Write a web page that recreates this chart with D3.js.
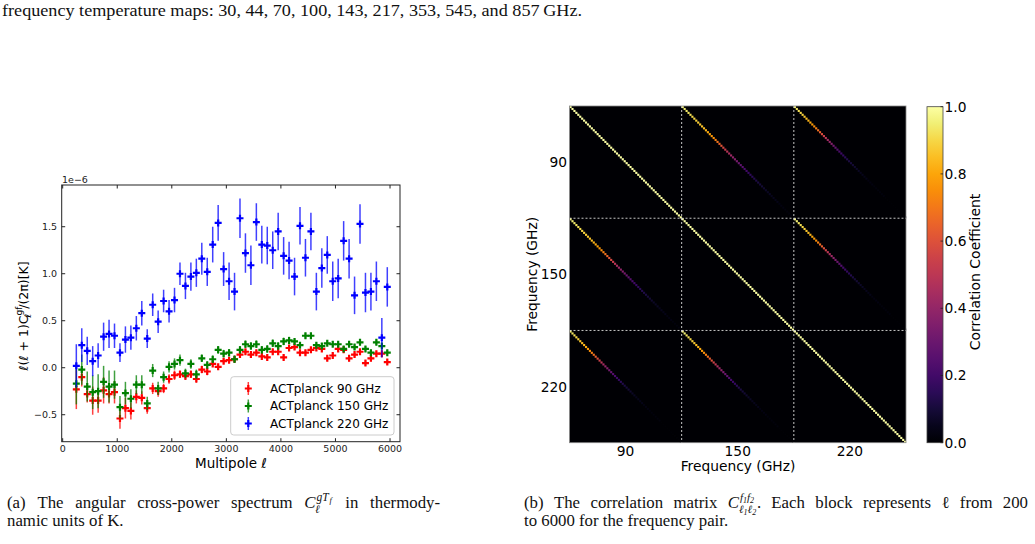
<!DOCTYPE html>
<html><head><meta charset="utf-8">
<script src="https://cdn.jsdelivr.net/npm/d3@7"></script>
<style>html,body{margin:0;padding:0;background:#fff;}svg{display:block;}</style>
</head><body>
<script>
// ---------------- DATA ----------------
const ells = d3.range(250, 6000, 100); // 58 multipole bins
const series = ["ACTplanck 90 GHz", "ACTplanck 150 GHz", "ACTplanck 220 GHz"];
const seriesColors = ["#ff0000", "#008000", "#0000ff"];

const val90 = [-0.23,-0.10,-0.28,-0.35,-0.35,-0.24,-0.28,-0.26,-0.54,-0.43,
  -0.46,-0.31,-0.32,-0.43,-0.22,-0.25,-0.22,-0.12,-0.08,-0.07,
  -0.09,-0.07,-0.12,-0.02,-0.04,0.04,0.01,0.07,0.08,0.09,
  0.14,0.17,0.14,0.16,0.12,0.11,0.17,0.17,0.11,0.21,
  0.22,0.16,0.16,0.19,0.21,0.20,0.10,0.13,0.20,0.19,
  0.10,0.14,0.17,0.05,0.10,0.15,0.15,0.06];
const err90 = [0.21,0.10,0.09,0.15,0.13,0.14,0.10,0.12,0.11,0.11,
  0.09,0.07,0.07,0.06,0.06,0.06,0.05,0.05,0.05,0.04,
  0.04,0.04,0.04,0.04,0.04,0.03,0.03,0.03,0.03,0.03,
  0.03,0.03,0.03,0.03,0.03,0.03,0.03,0.03,0.03,0.03,
  0.03,0.03,0.03,0.03,0.03,0.03,0.03,0.03,0.03,0.03,
  0.03,0.03,0.03,0.03,0.03,0.03,0.03,0.03];
const val150 = [-0.17,-0.02,-0.20,-0.26,-0.25,-0.15,-0.20,-0.18,-0.42,-0.27,
  -0.33,-0.18,-0.18,-0.38,-0.03,-0.22,-0.10,0.01,0.04,0.08,
  -0.06,0.04,-0.07,0.10,0.03,0.09,0.19,0.15,0.16,0.09,
  0.19,0.25,0.23,0.25,0.19,0.20,0.26,0.23,0.28,0.29,
  0.28,0.24,0.34,0.34,0.24,0.23,0.26,0.25,0.25,0.20,
  0.25,0.22,0.27,0.20,0.16,0.27,0.23,0.16];
const err150 = [0.22,0.16,0.16,0.18,0.18,0.17,0.17,0.15,0.12,0.12,
  0.10,0.10,0.10,0.07,0.07,0.07,0.06,0.06,0.06,0.06,
  0.05,0.05,0.05,0.04,0.04,0.04,0.04,0.04,0.04,0.04,
  0.04,0.04,0.04,0.04,0.04,0.04,0.04,0.04,0.04,0.04,
  0.03,0.03,0.03,0.03,0.03,0.03,0.03,0.03,0.03,0.03,
  0.03,0.03,0.03,0.03,0.03,0.03,0.03,0.03];
const val220 = [0.02,0.24,0.18,0.07,0.13,0.33,0.36,0.34,0.16,0.30,
  0.32,0.42,0.58,0.31,0.67,0.49,0.71,0.60,0.72,1.00,
  0.87,0.97,1.01,1.16,1.02,1.31,1.54,1.05,0.92,0.81,
  1.59,1.22,1.09,1.55,1.31,1.30,1.25,1.45,1.19,1.14,
  0.97,1.51,1.17,1.45,0.81,1.06,1.20,0.92,0.95,1.35,
  1.16,0.77,1.53,0.80,0.81,0.92,0.32,0.86];
const err220 = [0.23,0.18,0.15,0.16,0.13,0.15,0.15,0.13,0.10,0.14,
  0.13,0.13,0.13,0.10,0.12,0.12,0.12,0.12,0.13,0.12,
  0.14,0.15,0.15,0.17,0.15,0.19,0.19,0.18,0.20,0.20,
  0.21,0.21,0.21,0.20,0.20,0.20,0.20,0.20,0.20,0.20,
  0.20,0.20,0.20,0.20,0.20,0.21,0.20,0.21,0.21,0.21,
  0.21,0.20,0.21,0.21,0.20,0.21,0.21,0.21];

const xTicks = [0,1000,2000,3000,4000,5000,6000];
const yTicks = [-0.5,0.0,0.5,1.0,1.5];

// correlation matrix: frequencies and off-diagonal block correlations along ell
const freqs = ["90","150","220"];
const corr90_150 = [0.96,0.95,0.94,0.93,0.92,0.91,0.90,0.89,0.88,0.87,
  0.86,0.85,0.83,0.81,0.79,0.77,0.75,0.72,0.69,0.65,
  0.61,0.57,0.53,0.49,0.45,0.42,0.39,0.36,0.33,0.30,
  0.27,0.25,0.22,0.20,0.18,0.16,0.15,0.13,0.12,0.11,
  0.10,0.09,0.08,0.07,0.06,0.06,0.05,0.05,0.04,0.04,
  0.03,0.03,0.03,0.02,0.02,0.02,0.02,0.01];
const corr90_220 = [0.95,0.93,0.92,0.90,0.89,0.87,0.85,0.83,0.81,0.78,
  0.75,0.72,0.68,0.64,0.59,0.54,0.49,0.44,0.40,0.36,
  0.32,0.28,0.25,0.22,0.19,0.17,0.15,0.13,0.11,0.10,
  0.09,0.08,0.07,0.06,0.05,0.05,0.04,0.04,0.03,0.03,
  0.03,0.02,0.02,0.02,0.02,0.02,0.02,0.01,0.01,0.01,
  0.01,0.01,0.01,0.01,0.01,0.01,0.01,0.01];
const corr150_220 = [0.96,0.95,0.93,0.92,0.90,0.89,0.87,0.85,0.83,0.81,
  0.78,0.75,0.72,0.68,0.64,0.60,0.55,0.50,0.46,0.42,
  0.38,0.34,0.30,0.27,0.24,0.21,0.19,0.17,0.15,0.13,
  0.11,0.10,0.09,0.08,0.07,0.06,0.05,0.05,0.04,0.04,
  0.03,0.03,0.03,0.03,0.02,0.02,0.02,0.02,0.02,0.02,
  0.01,0.01,0.01,0.01,0.01,0.01,0.01,0.01];
const cbTicks = [0.0,0.2,0.4,0.6,0.8,1.0];

// ---------------- DRAW ----------------
const W = 1035, H = 544;
const svg = d3.select("body").append("svg").attr("width", W).attr("height", H)
  .style("background", "#fff");
const SANS = "DejaVu Sans, sans-serif";
const SERIF = "Liberation Serif, DejaVu Serif, serif";

// page text
svg.append("text").attr("x", 2).attr("y", 15.5).attr("font-family", SERIF).attr("font-size", 17)
  .attr("fill", "#111").attr("textLength", 580).attr("lengthAdjust", "spacingAndGlyphs")
  .text("frequency temperature maps: 30, 44, 70, 100, 143, 217, 353, 545, and 857\u2009GHz.");

// justified caption line: items are strings or {w, draw(g,x,y)}
const CAPFS = 16.8;
function justify(items, x0, x1, y) {
  const g = svg.append("g").attr("font-family", SERIF).attr("font-size", CAPFS).attr("fill", "#111");
  const nodes = items.map(it => {
    if (typeof it === "string") {
      const t = g.append("text").attr("y", y).text(it);
      return {w: t.node().getComputedTextLength(), place: x => t.attr("x", x)};
    }
    const sub = g.append("g");
    const w = it.draw(sub, 0, y);
    return {w, place: x => sub.attr("transform", `translate(${x},0)`)};
  });
  const tot = d3.sum(nodes, n => n.w);
  const gap = (x1 - x0 - tot) / (nodes.length - 1);
  let x = x0;
  nodes.forEach(n => { n.place(x); x += n.w + gap; });
}
function plain(txt, x, y) {
  svg.append("text").attr("x", x).attr("y", y).attr("font-family", SERIF).attr("font-size", CAPFS)
    .attr("fill", "#111").text(txt);
}
const mathA = {draw: (g, x, y) => {
  const c = g.append("text").attr("x", x).attr("y", y).attr("font-style", "italic").text("C");
  const cw = c.node().getComputedTextLength();
  g.append("text").attr("x", x + cw + 1).attr("y", y - 7).attr("font-size", 11.5).attr("font-style", "italic").text("gT");
  g.append("text").attr("x", x + cw + 14).attr("y", y - 5).attr("font-size", 8.5).attr("font-style", "italic").text("f");
  g.append("text").attr("x", x + cw - 0.5).attr("y", y + 5).attr("font-size", 11.5).attr("font-style", "italic").text("\u2113");
  return cw + 18;
}};
const mathB = {draw: (g, x, y) => {
  const c = g.append("text").attr("x", x).attr("y", y).attr("font-style", "italic").text("C");
  const cw = c.node().getComputedTextLength();
  const sup = g.append("text").attr("x", x + cw + 1).attr("y", y - 7).attr("font-size", 11).attr("font-style", "italic");
  sup.append("tspan").text("f");
  sup.append("tspan").attr("font-size", 8).attr("dy", 2).text("1");
  sup.append("tspan").attr("dy", -2).text("f");
  sup.append("tspan").attr("font-size", 8).attr("dy", 2).text("2");
  const sub = g.append("text").attr("x", x + cw).attr("y", y + 5).attr("font-size", 11).attr("font-style", "italic");
  sub.append("tspan").text("\u2113");
  sub.append("tspan").attr("font-size", 8).attr("dy", 2).text("1");
  sub.append("tspan").attr("dy", -2).text("\u2113");
  sub.append("tspan").attr("font-size", 8).attr("dy", 2).text("2");
  g.append("text").attr("x", x + cw + 18).attr("y", y).text(".");
  return cw + 22;
}};
justify(["(a)", "The", "angular", "cross-power", "spectrum", mathA, "in", "thermody-"], 7, 440, 508);
plain("namic units of K.", 7, 526);
justify(["(b)", "The", "correlation", "matrix", mathB, "Each", "block", "represents", "\u2113", "from", "200"], 524, 1028, 508);
plain("to 6000 for the frequency pair.", 524, 526);

// ---------------- LEFT: spectrum ----------------
const L = {x0: 61.7, x1: 400, y0: 185, y1: 441.7};
const xs = d3.scaleLinear().domain([-18, 6183]).range([L.x0, L.x1]);
const ys = d3.scaleLinear().domain([-0.787, 1.944]).range([L.y1, L.y0]);
const left = svg.append("g").attr("font-family", SANS);

const data = [
  {name: series[0], color: seriesColors[0], v: val90, e: err90},
  {name: series[1], color: seriesColors[1], v: val150, e: err150},
  {name: series[2], color: seriesColors[2], v: val220, e: err220}
];
const plot = left.append("g");
data.forEach(s => {
  const g = plot.append("g");
  ells.forEach((l, i) => {
    g.append("line").attr("x1", xs(l)).attr("x2", xs(l))
      .attr("y1", ys(s.v[i] - s.e[i])).attr("y2", ys(s.v[i] + s.e[i]))
      .attr("stroke", s.color).attr("stroke-width", 1.5).attr("stroke-opacity", 0.75);
  });
  ells.forEach((l, i) => {
    const cx = xs(l), cy = ys(s.v[i]);
    g.append("path").attr("d", `M${cx-3.5},${cy}H${cx+3.5}M${cx},${cy-3.5}V${cy+3.5}`)
      .attr("stroke", s.color).attr("stroke-width", 2.2).attr("fill", "none");
  });
});

left.append("rect").attr("x", L.x0).attr("y", L.y0).attr("width", L.x1 - L.x0).attr("height", L.y1 - L.y0)
  .attr("fill", "none").attr("stroke", "#222").attr("stroke-width", 1);
xTicks.forEach(t => {
  const x = xs(t);
  left.append("line").attr("x1", x).attr("x2", x).attr("y1", L.y1).attr("y2", L.y1 - 3.5).attr("stroke", "#222");
  left.append("line").attr("x1", x).attr("x2", x).attr("y1", L.y0).attr("y2", L.y0 + 3.5).attr("stroke", "#222");
  left.append("text").attr("x", x).attr("y", 452).attr("text-anchor", "middle").attr("font-size", 9.5)
    .attr("fill", "#222").text(t);
});
yTicks.forEach(t => {
  const y = ys(t);
  left.append("line").attr("x1", L.x0).attr("x2", L.x0 + 3.5).attr("y1", y).attr("y2", y).attr("stroke", "#222");
  left.append("line").attr("x1", L.x1).attr("x2", L.x1 - 3.5).attr("y1", y).attr("y2", y).attr("stroke", "#222");
  left.append("text").attr("x", 57).attr("y", y).attr("dy", "0.35em").attr("text-anchor", "end")
    .attr("font-size", 9.5).attr("fill", "#222").text(d3.format(".1f")(t).replace("-", "\u2212"));
});
left.append("text").attr("x", 62).attr("y", 183).attr("font-size", 9.5).attr("fill", "#222").text("1e\u22126");
left.append("text").attr("x", 231).attr("y", 468).attr("text-anchor", "middle").attr("font-size", 13.5)
  .text("Multipole \u2113");
const yl = left.append("text").attr("transform", "translate(28,316) rotate(-90)").attr("text-anchor", "middle")
  .attr("font-size", 12.5);
yl.append("tspan").text("\u2113(\u2113 + 1)C");
yl.append("tspan").attr("font-size", 9).attr("dy", -6).text("gf");
yl.append("tspan").attr("font-size", 9).attr("dx", -11).attr("dy", 9).text("\u2113");
yl.append("tspan").attr("dx", 5).attr("dy", -3).text("/(2\u03c0)[K]");

// legend
const lg = left.append("g");
lg.append("rect").attr("x", 230.7).attr("y", 376.7).attr("width", 163.3).attr("height", 58.3)
  .attr("rx", 3).attr("fill", "#fff").attr("fill-opacity", 0.85).attr("stroke", "#ccc").attr("stroke-width", 1);
data.forEach((s, i) => {
  const cy = 388.5 + i * 17.5, cx = 248.3;
  lg.append("line").attr("x1", cx).attr("x2", cx).attr("y1", cy - 6.5).attr("y2", cy + 6.5)
    .attr("stroke", s.color).attr("stroke-width", 1.5).attr("stroke-opacity", 0.75);
  lg.append("path").attr("d", `M${cx-3.5},${cy}H${cx+3.5}M${cx},${cy-3.5}V${cy+3.5}`)
    .attr("stroke", s.color).attr("stroke-width", 2.2);
  lg.append("text").attr("x", 270).attr("y", cy).attr("dy", "0.36em").attr("font-size", 12).text(s.name);
});

// ---------------- RIGHT: correlation matrix ----------------
const nb = ells.length, N = nb * freqs.length;
const R = {x0: 569.5, x1: 906, y0: 106, y1: 442.7};
const cx = d3.scaleLinear().domain([0, N]).range([R.x0, R.x1]);
const cy = d3.scaleLinear().domain([0, N]).range([R.y0, R.y1]);
const color = d3.scaleSequential(d3.interpolateInferno).domain([0, 1]);
const right = svg.append("g").attr("font-family", SANS);
right.append("rect").attr("x", R.x0).attr("y", R.y0).attr("width", R.x1 - R.x0).attr("height", R.y1 - R.y0)
  .attr("fill", color(0));
const pairCorr = {"0-1": corr90_150, "0-2": corr90_220, "1-2": corr150_220};
const cells = [];
for (let bi = 0; bi < 3; bi++) for (let bj = 0; bj < 3; bj++) {
  const key = bi < bj ? `${bi}-${bj}` : `${bj}-${bi}`;
  for (let k = 0; k < nb; k++) {
    const v = bi === bj ? 1 : pairCorr[key][k];
    cells.push({r: bi * nb + k, c: bj * nb + k, v});
  }
}
right.append("g").selectAll("rect").data(cells).join("rect")
  .attr("x", d => cx(d.c)).attr("y", d => cy(d.r))
  .attr("width", cx(1) - cx(0) + 0.2).attr("height", cy(1) - cy(0) + 0.2)
  .attr("fill", d => color(d.v));
[1, 2].forEach(b => {
  right.append("line").attr("x1", cx(b * nb)).attr("x2", cx(b * nb)).attr("y1", R.y0).attr("y2", R.y1)
    .attr("stroke", "#ddd").attr("stroke-width", 0.9).attr("stroke-dasharray", "2,2");
  right.append("line").attr("y1", cy(b * nb)).attr("y2", cy(b * nb)).attr("x1", R.x0).attr("x2", R.x1)
    .attr("stroke", "#ddd").attr("stroke-width", 0.9).attr("stroke-dasharray", "2,2");
});
right.append("rect").attr("x", R.x0).attr("y", R.y0).attr("width", R.x1 - R.x0).attr("height", R.y1 - R.y0)
  .attr("fill", "none").attr("stroke", "#888").attr("stroke-width", 0.8);
freqs.forEach((f, i) => {
  const mid = (i + 0.5) * nb;
  right.append("text").attr("x", 567).attr("y", cy(mid)).attr("dy", "0.36em").attr("text-anchor", "end")
    .attr("font-size", 13.8).text(f);
  right.append("text").attr("x", cx(mid)).attr("y", 456).attr("text-anchor", "middle")
    .attr("font-size", 13.8).text(f);
});
right.append("text").attr("x", 738).attr("y", 471).attr("text-anchor", "middle").attr("font-size", 13.8)
  .text("Frequency (GHz)");
right.append("text").attr("transform", `translate(537,${(R.y0 + R.y1) / 2}) rotate(-90)`)
  .attr("text-anchor", "middle").attr("font-size", 13.8).text("Frequency (GHz)");

// colorbar
const C = {x0: 927, x1: 943, y0: 106.7, y1: 442.7};
const defs = svg.append("defs");
const grad = defs.append("linearGradient").attr("id", "cb").attr("x1", 0).attr("y1", 1).attr("x2", 0).attr("y2", 0);
d3.range(0, 1.0001, 0.05).forEach(t => grad.append("stop").attr("offset", t).attr("stop-color", color(t)));
const cs = d3.scaleLinear().domain([0, 1]).range([C.y1, C.y0]);
right.append("rect").attr("x", C.x0).attr("y", C.y0).attr("width", C.x1 - C.x0).attr("height", C.y1 - C.y0)
  .attr("fill", "url(#cb)").attr("stroke", "#444").attr("stroke-width", 0.8);
cbTicks.forEach(t => {
  right.append("line").attr("x1", C.x1).attr("x2", C.x1 - 2.5).attr("y1", cs(t)).attr("y2", cs(t))
    .attr("stroke", "#222").attr("stroke-width", 0.8);
  right.append("text").attr("x", 944.5).attr("y", cs(t)).attr("dy", "0.36em").attr("font-size", 13.8)
    .text(d3.format(".1f")(t));
});
right.append("text").attr("transform", `translate(980,272) rotate(-90)`).attr("text-anchor", "middle")
  .attr("font-size", 14).text("Correlation Coefficient");
</script>
</body></html>
